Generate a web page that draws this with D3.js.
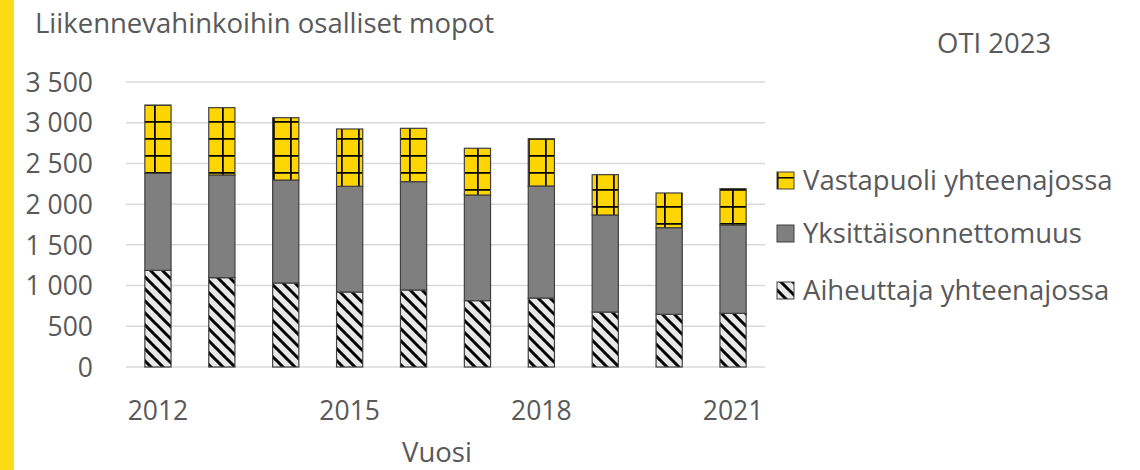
<!DOCTYPE html>
<html>
<head>
<meta charset="utf-8">
<script src="https://cdn.jsdelivr.net/npm/d3@7"></script>
<style>
  body { margin: 0; background: #fff; }
  text { font-family: "Open Sans", "Noto Sans", sans-serif; fill: #595959; }
</style>
</head>
<body>
<div id="chart"></div>
<script>
// data
const years = [2012, 2013, 2014, 2015, 2016, 2017, 2018, 2019, 2020, 2021]
const aiheuttaja = [1187, 1097, 1032, 921, 946, 815, 847, 675, 647, 659]
const yksittais = [1192, 1261, 1264, 1298, 1330, 1297, 1376, 1192, 1064, 1085]
const vastapuoli = [838, 827, 766, 704, 655, 574, 581, 495, 426, 446]
const yTicks = [0, 500, 1000, 1500, 2000, 2500, 3000, 3500]
const xLabelYears = [2012, 2015, 2018, 2021]
const seriesNames = ["Aiheuttaja yhteenajossa", "Yksittäisonnettomuus", "Vastapuoli yhteenajossa"]

const W = 1140, H = 470
const margin = {left: 126, right: 375, top: 82, bottom: 103}

const svg = d3.select("#chart").append("svg")
    .attr("width", W).attr("height", H)

// yellow stripe on the left
svg.append("rect").attr("x", 0).attr("y", 0).attr("width", 14).attr("height", H)
    .attr("fill", "#fddb17")

const defs = svg.append("defs")

// diagonal hatch
const hatch = defs.append("pattern").attr("id", "hatch")
    .attr("patternUnits", "userSpaceOnUse").attr("width", 12).attr("height", 12)
hatch.append("rect").attr("width", 12).attr("height", 12).attr("fill", "#e8e8e8")
hatch.append("path").attr("d", "M-3,-3 L15,15 M-3,9 L3,15 M9,-3 L15,3")
    .attr("stroke", "#000").attr("stroke-width", 3)

// large grid
const grid = defs.append("pattern").attr("id", "grid")
    .attr("patternUnits", "userSpaceOnUse").attr("width", 17).attr("height", 17)
    .attr("x", 1).attr("y", 2)
grid.append("rect").attr("width", 17).attr("height", 17).attr("fill", "#ffd500")
grid.append("path").attr("d", "M0.75,0 V17 M0,0.75 H17")
    .attr("stroke", "#000").attr("stroke-width", 2)

// small grid for the legend key
const gridKey = defs.append("pattern").attr("id", "gridKey")
    .attr("patternUnits", "userSpaceOnUse").attr("width", 17).attr("height", 17)
    .attr("x", 782).attr("y", 184)
gridKey.append("rect").attr("width", 17).attr("height", 17).attr("fill", "#ffd500")
gridKey.append("path").attr("d", "M0.75,0 V17 M0,0.75 H17")
    .attr("stroke", "#000").attr("stroke-width", 1.5)

const fills = ["url(#hatch)", "#7f7f7f", "url(#grid)"]
const legendFills = ["url(#hatch)", "#7f7f7f", "url(#gridKey)"]

const x = d3.scaleBand().domain(years)
    .range([margin.left, W - margin.right]).paddingInner(0.59).paddingOuter(0.295)
const y = d3.scaleLinear().domain([0, 3500]).range([H - margin.bottom, margin.top])

// gridlines
svg.append("g").selectAll("line").data(yTicks).join("line")
    .attr("x1", margin.left).attr("x2", W - margin.right)
    .attr("y1", d => y(d)).attr("y2", d => y(d))
    .attr("stroke", "#d9d9d9").attr("stroke-width", 1.5)

// y axis
const yAxis = svg.append("g").attr("transform", `translate(${margin.left - 30},0)`)
    .call(d3.axisLeft(y).tickValues(yTicks).tickSize(0)
        .tickFormat(d => d3.format(",")(d).replace(",", " ")))
yAxis.select(".domain").remove()
yAxis.selectAll("text").attr("font-size", 26.5).attr("dy", "0.35em")

// x axis
const xAxis = svg.append("g").attr("transform", `translate(0,${H - margin.bottom})`)
    .call(d3.axisBottom(x).tickSize(0).tickFormat(d => xLabelYears.includes(d) ? d : ""))
xAxis.select(".domain").remove()
xAxis.selectAll("text").attr("font-size", 26.5).attr("y", 53).attr("dy", 0)

const data = years.map((yr, i) => ({year: yr, a: aiheuttaja[i], b: yksittais[i], c: vastapuoli[i]}))
const stack = d3.stack().keys(["a", "b", "c"])(data)

svg.append("g").selectAll("g").data(stack).join("g")
    .attr("fill", (d, i) => fills[i])
    .selectAll("rect").data(d => d).join("rect")
    .attr("x", d => x(d.data.year))
    .attr("width", x.bandwidth())
    .attr("y", d => y(d[1]))
    .attr("height", d => y(d[0]) - y(d[1]))
    .attr("stroke", "#404040").attr("stroke-width", 1.2)

// titles
svg.append("text").attr("x", 35).attr("y", 33).attr("font-size", 27.5)
    .text("Liikennevahinkoihin osalliset mopot")
svg.append("text").attr("x", 937).attr("y", 53).attr("font-size", 27.5)
    .text("OTI 2023")
svg.append("text").attr("x", 437).attr("y", 462)
    .attr("text-anchor", "middle").attr("font-size", 27.5).text("Vuosi")

// legend
const legendY = [290, 233, 180]
const lg = svg.append("g").selectAll("g").data(seriesNames).join("g")
    .attr("transform", (d, i) => `translate(777,${legendY[i]})`)
lg.append("rect").attr("x", 0).attr("y", -8).attr("width", 17).attr("height", 17)
    .attr("fill", (d, i) => legendFills[i]).attr("stroke", "#404040").attr("stroke-width", 1)
lg.append("text").attr("x", 26).attr("dy", "0.35em").attr("font-size", 27.5).text(d => d)
</script>
</body>
</html>
